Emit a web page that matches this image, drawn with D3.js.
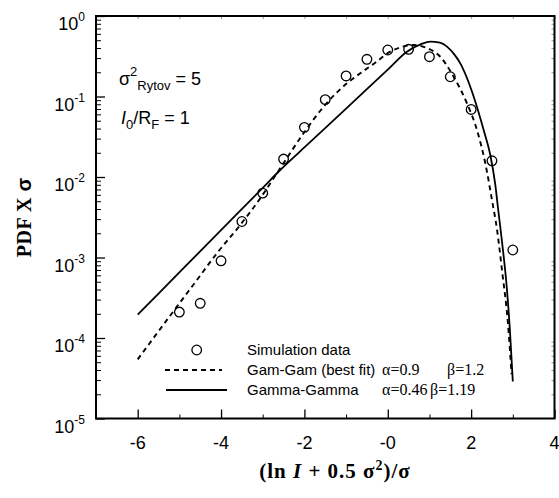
<!DOCTYPE html>
<html>
<head>
<meta charset="utf-8">
<script src="https://cdn.jsdelivr.net/npm/d3@7"></script>
<style>
  html, body { margin: 0; padding: 0; background: #fff; }
  svg { display: block; }
  .sans { font-family: "Liberation Sans", Arial, sans-serif; }
  .serif { font-family: "Liberation Serif", "Times New Roman", serif; }
</style>
</head>
<body>
<div id="chart"></div>
<script>
// Simulated PDF samples (x = (ln I + 0.5 sigma^2)/sigma, y = PDF x sigma)
const simX = [-5.0, -4.5, -4.0, -3.5, -3.0, -2.5, -2.0, -1.5, -1.0, -0.5, 0.0, 0.5, 1.0, 1.5, 2.0, 2.5, 3.0];
const simY = [2.1e-4, 2.7e-4, 9.1e-4, 2.8e-3, 6.3e-3, 0.0167, 0.0414, 0.0915, 0.18, 0.29, 0.378, 0.386, 0.312, 0.176, 0.069, 0.0159, 1.24e-3];

// Gam-Gam best fit (alpha = 0.9, beta = 1.2), log10 of PDF
const fitX   = [-6.0, -5.06, -4.58, -4.10, -3.54, -3.06, -2.66, -2.02, -1.54, -0.98, -0.66, -0.3, 0.06, 0.3, 0.62, 0.9, 1.26, 1.58, 1.9, 2.14, 2.34, 2.5, 2.62, 2.75, 2.88, 2.97];
const fitLog = [-4.265, -3.611, -3.28, -2.948, -2.596, -2.265, -1.954, -1.457, -1.127, -0.836, -0.712, -0.58, -0.443, -0.39, -0.36, -0.39, -0.506, -0.754, -1.085, -1.416, -1.83, -2.286, -2.65, -3.2, -3.8, -4.45];

// Gamma-Gamma (alpha = 0.46, beta = 1.19), log10 of PDF
const ggX   = [-6.0, -5.0, -4.0, -3.0, -2.58, -2.0, -1.0, 0.0, 0.46, 0.8, 1.02, 1.25, 1.42, 1.6, 1.74, 1.9, 2.06, 2.3, 2.46, 2.58, 2.65, 2.75, 2.85, 2.93, 3.0];
const ggLog = [-3.71, -3.185, -2.66, -2.135, -1.913, -1.632, -1.15, -0.665, -0.443, -0.35, -0.319, -0.33, -0.381, -0.48, -0.588, -0.77, -1.0, -1.416, -1.727, -2.099, -2.41, -2.845, -3.342, -3.90, -4.54];

const xMajor = [-6, -4, -2, 0, 2, 4];
const xMajorLabels = ["-6", "-4", "-2", "-0", "2", "4"];
const xMinor = [-5, -3, -1, 1, 3];
const yDecades = [0, -1, -2, -3, -4, -5];

const W = 559, H = 498;
const svg = d3.select("#chart").append("svg").attr("width", W).attr("height", H);

const x = d3.scaleLinear().domain([-7, 4]).range([96, 554.5]);
const y = d3.scaleLog().domain([1e-5, 1]).range([418.5, 16]);

const ink = "#000";

// y minor ticks (2..9 per decade), pointing inward
const yMinor = [];
for (let k = -5; k < 0; k++) for (let m = 2; m <= 9; m++) yMinor.push(m * Math.pow(10, k));

const g = svg.append("g");

// left axis ticks
g.append("g").attr("transform", `translate(${x(-7)},0)`)
  .call(d3.axisLeft(y).tickValues(yDecades.map(d => Math.pow(10, d))).tickSize(-9).tickFormat(""))
  .call(s => s.select(".domain").remove())
  .selectAll("line").attr("stroke", ink).attr("stroke-width", 1.3);
g.append("g").attr("transform", `translate(${x(-7)},0)`)
  .call(d3.axisLeft(y).tickValues(yMinor).tickSize(-5).tickFormat(""))
  .call(s => s.select(".domain").remove())
  .selectAll("line").attr("stroke", ink).attr("stroke-width", 1);

// right axis ticks (faint, pointing inward)
g.append("g").attr("transform", `translate(${x(4)},0)`)
  .call(d3.axisRight(y).tickValues(yMinor).tickSize(-3).tickFormat(""))
  .call(s => s.select(".domain").remove())
  .selectAll("line").attr("stroke", "#777").attr("stroke-width", 0.8);

// bottom axis ticks, pointing up
g.append("g").attr("transform", `translate(0,${y(1e-5)})`)
  .call(d3.axisBottom(x).tickValues(xMajor).tickSize(-9).tickFormat(""))
  .call(s => s.select(".domain").remove())
  .selectAll("line").attr("stroke", ink).attr("stroke-width", 1.3);
g.append("g").attr("transform", `translate(0,${y(1e-5)})`)
  .call(d3.axisBottom(x).tickValues(xMinor).tickSize(-4).tickFormat(""))
  .call(s => s.select(".domain").remove())
  .selectAll("line").attr("stroke", ink).attr("stroke-width", 1);

// top axis ticks (faint)
g.append("g").attr("transform", `translate(0,${y(1)})`)
  .call(d3.axisTop(x).tickValues(xMajor.concat(xMinor)).tickSize(-3).tickFormat(""))
  .call(s => s.select(".domain").remove())
  .selectAll("line").attr("stroke", "#777").attr("stroke-width", 0.8);

// frame
svg.append("rect")
  .attr("x", x(-7)).attr("y", y(1))
  .attr("width", x(4) - x(-7)).attr("height", y(1e-5) - y(1))
  .attr("fill", "none").attr("stroke", ink).attr("stroke-width", 2);

// y tick labels: 10^k
const yl = svg.append("g").attr("class", "sans").attr("fill", ink);
yDecades.forEach(k => {
  const t = yl.append("text")
    .attr("x", 85).attr("y", y(Math.pow(10, k)) + 14)
    .attr("text-anchor", "end").attr("font-size", 18);
  t.append("tspan").text("10");
  t.append("tspan").attr("dy", -9).attr("font-size", 12).text(String(k));
});

// x tick labels
svg.append("g").attr("class", "sans").selectAll("text")
  .data(xMajor).join("text")
  .attr("x", d => x(d)).attr("y", 449)
  .attr("text-anchor", "middle").attr("font-size", 18).attr("fill", ink)
  .text((d, i) => xMajorLabels[i]);

// axis titles
svg.append("text").attr("class", "serif")
  .attr("transform", `translate(31,${(y(1) + y(1e-5)) / 2}) rotate(-90)`)
  .attr("text-anchor", "middle").attr("font-size", 20).attr("font-weight", "bold")
  .attr("letter-spacing", 0.5)
  .html('PDF X <tspan font-family="Liberation Sans" font-weight="bold">σ</tspan>');

const xt = svg.append("text").attr("class", "serif")
  .attr("x", 335).attr("y", 478).attr("text-anchor", "middle")
  .attr("font-size", 21).attr("font-weight", "bold").attr("letter-spacing", 1).attr("fill", ink);
xt.append("tspan").text("(ln ");
xt.append("tspan").attr("font-style", "italic").text("I");
xt.append("tspan").text(" + 0.5 σ");
xt.append("tspan").attr("dy", -8).attr("font-size", 14).text("2");
xt.append("tspan").attr("dy", 8).text(")/σ");

// parameter annotations
const a1 = svg.append("text").attr("class", "sans").attr("x", 119).attr("y", 85)
  .attr("font-size", 18).attr("fill", ink);
a1.append("tspan").text("σ");
a1.append("tspan").attr("dy", -9).attr("font-size", 13).text("2");
a1.append("tspan").attr("dy", 14).attr("font-size", 13).text("Rytov");
a1.append("tspan").attr("dy", -5).text(" = 5");

const a2 = svg.append("text").attr("class", "sans").attr("x", 121).attr("y", 124)
  .attr("font-size", 18).attr("fill", ink);
a2.append("tspan").attr("font-style", "italic").text("I");
a2.append("tspan").attr("dy", 5).attr("font-size", 13).text("0");
a2.append("tspan").attr("dy", -5).text("/R");
a2.append("tspan").attr("dy", 5).attr("font-size", 13).text("F");
a2.append("tspan").attr("dy", -5).text(" = 1");

// curves
const line = d3.line().x(d => x(d[0])).y(d => y(Math.pow(10, d[1]))).curve(d3.curveMonotoneX);
svg.append("path")
  .attr("d", line(fitX.map((v, i) => [v, fitLog[i]])))
  .attr("fill", "none").attr("stroke", ink).attr("stroke-width", 1.9)
  .attr("stroke-dasharray", "5,4");
svg.append("path")
  .attr("d", line(ggX.map((v, i) => [v, ggLog[i]])))
  .attr("fill", "none").attr("stroke", ink).attr("stroke-width", 1.8);

// simulation points
svg.append("g").selectAll("circle")
  .data(simX.map((v, i) => [v, simY[i]])).join("circle")
  .attr("cx", d => x(d[0])).attr("cy", d => y(d[1])).attr("r", 4.8)
  .attr("fill", "none").attr("stroke", ink).attr("stroke-width", 1.3);

// legend
const lg = svg.append("g");
lg.append("circle").attr("cx", 196.7).attr("cy", 350).attr("r", 4.8)
  .attr("fill", "none").attr("stroke", ink).attr("stroke-width", 1.3);
lg.append("line").attr("x1", 165).attr("x2", 222).attr("y1", 370).attr("y2", 370)
  .attr("stroke", ink).attr("stroke-width", 1.9).attr("stroke-dasharray", "5,4");
lg.append("line").attr("x1", 166).attr("x2", 227).attr("y1", 390).attr("y2", 390)
  .attr("stroke", ink).attr("stroke-width", 1.8);

const lt = svg.append("g").attr("fill", ink);
lt.append("text").attr("class", "sans").attr("x", 247).attr("y", 355).attr("font-size", 15).text("Simulation data");
lt.append("text").attr("class", "sans").attr("x", 247).attr("y", 375).attr("font-size", 15).text("Gam-Gam (best fit)");
lt.append("text").attr("class", "serif").attr("x", 382).attr("y", 375).attr("font-size", 16).text("α=0.9");
lt.append("text").attr("class", "serif").attr("x", 447).attr("y", 375).attr("font-size", 16).text("β=1.2");
lt.append("text").attr("class", "sans").attr("x", 247).attr("y", 395).attr("font-size", 15).text("Gamma-Gamma");
lt.append("text").attr("class", "serif").attr("x", 382).attr("y", 395).attr("font-size", 16).text("α=0.46");
lt.append("text").attr("class", "serif").attr("x", 430).attr("y", 395).attr("font-size", 16).text("β=1.19");
</script>
</body>
</html>
